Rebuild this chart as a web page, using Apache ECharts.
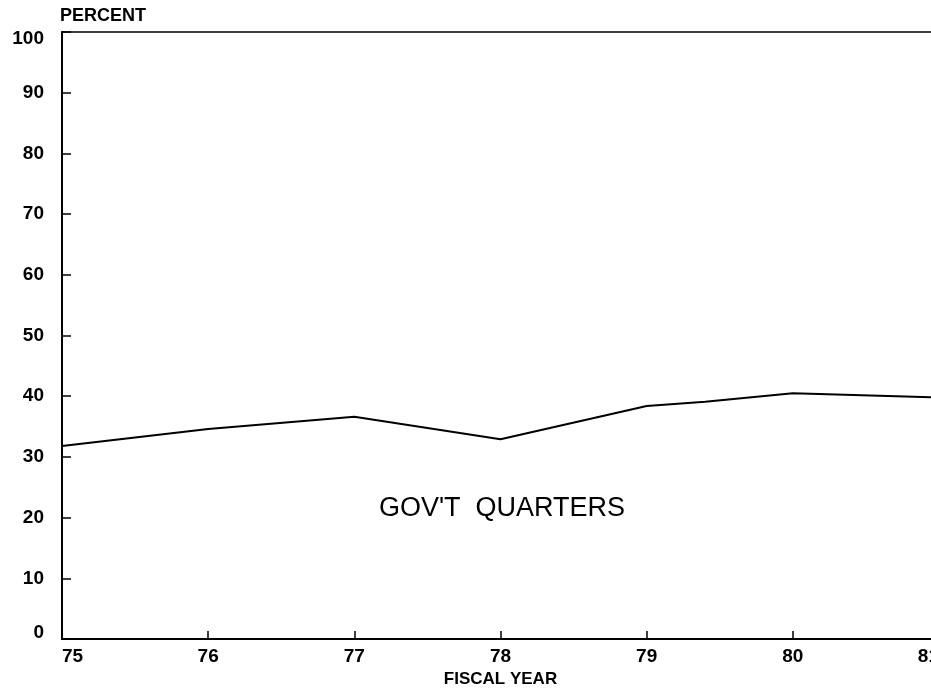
<!DOCTYPE html>
<html>
<head>
<meta charset="utf-8">
<script src="https://cdn.jsdelivr.net/npm/echarts@6/dist/echarts.min.js"></script>
<style>
  html, body { margin: 0; padding: 0; background: #fff; }
  #chart { width: 931px; height: 690px; }
</style>
</head>
<body>
<div id="chart"></div>
<script>
// fiscal year (x) and percent (y)
var fiscalYear = [75, 76, 77, 78, 79, 79.4, 80, 81];
var percent = [31.8, 34.6, 36.6, 32.9, 38.4, 39.1, 40.5, 39.8];
var yTicks = [0, 10, 20, 30, 40, 50, 60, 70, 80, 90, 100];
var xTicks = [75, 76, 77, 78, 79, 80, 81];

var font = 'Liberation Sans, Arial, sans-serif';

function pairs() {
  var res = [];
  for (var i = 0; i < fiscalYear.length; i++) res.push([fiscalYear[i], percent[i]]);
  return res;
}

var chart = echarts.init(document.getElementById('chart'));
chart.setOption({
  animation: false,
  grid: {
    left: 62, right: -8, top: 32, bottom: 51,
    containLabel: false,
    outerBoundsMode: 'none',
    show: true, borderColor: '#000', borderWidth: 1.5
  },
  xAxis: {
    type: 'value',
    min: xTicks[0], max: xTicks[xTicks.length - 1], interval: 1,
    name: 'FISCAL YEAR',
    nameLocation: 'middle',
    nameGap: 31,
    nameTextStyle: { color: '#000', fontFamily: font, fontWeight: 'bold', fontSize: 17 },
    axisLine: { lineStyle: { color: '#000', width: 2 } },
    axisTick: { inside: true, length: 8, lineStyle: { color: '#000', width: 1.5 } },
    axisLabel: {
      color: '#000', fontFamily: font, fontWeight: 'bold', fontSize: 19, margin: 8,
      alignMinLabel: 'left', alignMaxLabel: 'right'
    },
    splitLine: { show: false }
  },
  yAxis: {
    type: 'value',
    min: yTicks[0], max: yTicks[yTicks.length - 1], interval: 10,
    name: 'PERCENT',
    nameLocation: 'end',
    nameGap: 7,
    nameTextStyle: { color: '#000', fontFamily: font, fontWeight: 'bold', fontSize: 18, align: 'left', padding: [0, 0, 0, -2] },
    axisLine: { show: true, lineStyle: { color: '#000', width: 2 } },
    axisTick: { show: true, inside: true, length: 9, lineStyle: { color: '#000', width: 1.5 } },
    axisLabel: {
      color: '#000', fontFamily: font, fontWeight: 'bold', fontSize: 19, margin: 18,
      lineHeight: 13,
      verticalAlignMinLabel: 'bottom', verticalAlignMaxLabel: 'top'
    },
    splitLine: { show: false }
  },
  graphic: [{
    type: 'text',
    x: 502, y: 509,
    style: {
      text: "GOV'T  QUARTERS",
      fill: '#000',
      font: '27px ' + font,
      align: 'center',
      verticalAlign: 'middle'
    }
  }],
  series: [{
    type: 'line',
    data: pairs(),
    symbol: 'none',
    lineStyle: { color: '#000', width: 2 }
  }]
});
</script>
</body>
</html>
